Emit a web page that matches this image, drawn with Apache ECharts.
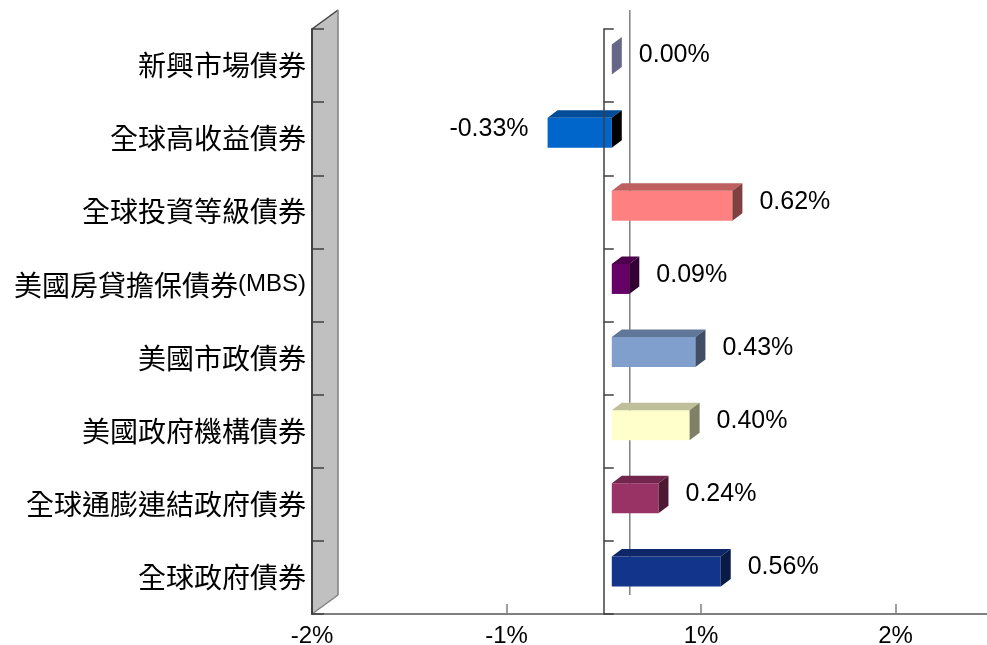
<!DOCTYPE html>
<html>
<head>
<meta charset="utf-8">
<script src="https://cdn.jsdelivr.net/npm/echarts@6/dist/echarts.min.js"></script>
<style>
  html, body { margin: 0; padding: 0; background: #ffffff; }
  #chart { width: 987px; height: 645px; }
</style>
</head>
<body>
<div id="chart"></div>
<script>
// Bond sector returns (%)
const categories = [
  '新興市場債券',
  '全球高收益債券',
  '全球投資等級債券',
  '美國房貸擔保債券(MBS)',
  '美國市政債券',
  '美國政府機構債券',
  '全球通膨連結政府債券',
  '全球政府債券'
];
const returns = [0.00, -0.33, 0.62, 0.09, 0.43, 0.40, 0.24, 0.56];

// Value-axis ticks sit half-way between whole percents; labels are rounded away from zero
const tickValues = [-1.5, -0.5, 0.5, 1.5];
const tickLabels = ['-2%', '-1%', '1%', '2%'];

// Box face colours: front, top, side
const frontColors = ['#ccccff', '#0066cc', '#ff8080', '#660066', '#809fcc', '#ffffcc', '#993366', '#12348a'];
const topColors   = ['#9999bf', '#004c99', '#bf6060', '#4d004d', '#60779a', '#bfbf99', '#73264d', '#0e2768'];
const sideColors  = ['#666688', '#000000', '#804040', '#330033', '#404f66', '#808066', '#4d1933', '#091a45'];

// Pseudo-3D depth settings (pixels)
const WALL_DX = 26, WALL_DY = -19;   // depth of the plot box
const BAR_OFF_X = 8, BAR_OFF_Y = -6; // bar front plane inside the box
const BAR_DX = 10, BAR_DY = -7.5;    // bar depth
const BAR_H = 30;                    // bar front face height

const FONT = '"Liberation Sans", Arial, "Noto Sans CJK TC", sans-serif';

const chart = echarts.init(document.getElementById('chart'), null, { renderer: 'canvas' });

function renderFrame(params, api) {
  const cs = params.coordSys;
  const left = cs.x, top = cs.y, bottom = cs.y + cs.height;
  const zeroX = api.coord([0, 0])[0];
  return {
    type: 'group',
    children: [
      { // side wall
        type: 'polygon',
        shape: { points: [[left, top], [left + WALL_DX, top + WALL_DY], [left + WALL_DX, bottom + WALL_DY], [left, bottom]] },
        style: { fill: '#c0c0c0', stroke: null }
      },
      { type: 'line', shape: { x1: left, y1: top, x2: left + WALL_DX, y2: top + WALL_DY },
        style: { stroke: '#404040', lineWidth: 1.5 } },
      { type: 'line', shape: { x1: left + WALL_DX, y1: top + WALL_DY, x2: left + WALL_DX, y2: bottom + WALL_DY },
        style: { stroke: '#808080', lineWidth: 1.5 } },
      { type: 'line', shape: { x1: left, y1: bottom, x2: left + WALL_DX, y2: bottom + WALL_DY },
        style: { stroke: '#808080', lineWidth: 1.5 } },
      { // zero line on the back plane
        type: 'line', shape: { x1: zeroX + WALL_DX, y1: top + WALL_DY, x2: zeroX + WALL_DX, y2: bottom + WALL_DY },
        style: { stroke: '#808080', lineWidth: 1.5 } }
    ]
  };
}

function renderBar(params, api) {
  const idx = params.dataIndex;
  const v = api.value(0);
  const cat = api.value(1);
  const p0 = api.coord([0, cat]);
  const p1 = api.coord([v, cat]);
  const xl = Math.min(p0[0], p1[0]) + BAR_OFF_X;
  const xr = Math.max(p0[0], p1[0]) + BAR_OFF_X;
  const yc = p0[1] + BAR_OFF_Y;
  const yt = yc - BAR_H / 2, yb = yc + BAR_H / 2;
  const children = [];
  if (xr - xl > 0.5) {
    children.push({ type: 'rect', shape: { x: xl, y: yt, width: xr - xl, height: BAR_H },
      style: { fill: frontColors[idx] } });
    children.push({ type: 'polygon',
      shape: { points: [[xl, yt], [xr, yt], [xr + BAR_DX, yt + BAR_DY], [xl + BAR_DX, yt + BAR_DY]] },
      style: { fill: topColors[idx] } });
  }
  children.push({ type: 'polygon',
    shape: { points: [[xr, yt], [xr + BAR_DX, yt + BAR_DY], [xr + BAR_DX, yb + BAR_DY], [xr, yb]] },
    style: { fill: sideColors[idx] } });

  const text = v.toFixed(2) + '%';
  const ly = p0[1] - 10;
  if (v < 0) {
    children.push({ type: 'text', x: xl - 19, y: ly,
      style: { text: text, fill: '#000', font: '25px ' + FONT, align: 'right', verticalAlign: 'middle' } });
  } else {
    children.push({ type: 'text', x: xr + BAR_DX + 17, y: ly,
      style: { text: text, fill: '#000', font: '25px ' + FONT, align: 'left', verticalAlign: 'middle' } });
  }
  return { type: 'group', children: children };
}

// Category names: CJK in a larger size, Latin runs in a smaller one
function categoryFormatter(name) {
  return name.replace(/([\u3000-\u9fff\uff00-\uffef]+)|([^\u3000-\u9fff\uff00-\uffef]+)/g, function (m, cjk, lat) {
    return cjk ? '{c|' + cjk + '}' : '{l|' + lat + '}';
  });
}

chart.setOption({
  animation: false,
  backgroundColor: '#ffffff',
  grid: { left: 312, top: 29, width: 675, height: 585, containLabel: false, outerBoundsMode: 'none' },
  xAxis: {
    type: 'value',
    min: -1.5,
    max: 1.97,
    splitLine: { show: false },
    axisLine: { show: true, onZero: false, lineStyle: { color: '#808080', width: 2 } },
    axisTick: { show: true, inside: true, length: 10, customValues: tickValues, lineStyle: { color: '#808080', width: 1.5 } },
    axisLabel: {
      show: true,
      customValues: tickValues,
      margin: 10,
      color: '#000',
      fontSize: 24,
      fontFamily: FONT,
      formatter: function (val) {
        const i = tickValues.findIndex(function (t) { return Math.abs(t - val) < 1e-6; });
        return i >= 0 ? tickLabels[i] : '';
      }
    }
  },
  yAxis: [
    {
      type: 'category',
      data: categories,
      inverse: true,
      position: 'left',
      z: 5,
      axisLine: { show: true, onZero: false, lineStyle: { color: '#404040', width: 2 } },
      axisTick: { show: true, inside: true, length: 12, lineStyle: { color: '#404040', width: 1.5 } },
      axisLabel: {
        margin: 6,
        formatter: categoryFormatter,
        rich: {
          c: { fontSize: 28, fontFamily: '"Noto Sans CJK TC", sans-serif', color: '#000' },
          l: { fontSize: 24, fontFamily: FONT, color: '#000', padding: [0, 0, 2, 0] }
        }
      },
      splitLine: { show: false }
    },
    {
      type: 'category',
      data: categories,
      inverse: true,
      position: 'left',
      z: 5,
      axisLine: { show: true, onZero: true, lineStyle: { color: '#404040', width: 1.5 } },
      axisTick: { show: true, inside: true, length: 10, lineStyle: { color: '#404040', width: 1.5 } },
      axisLabel: { show: false },
      splitLine: { show: false }
    }
  ],
  series: [
    {
      type: 'custom',
      name: 'frame',
      z: 1,
      silent: true,
      yAxisIndex: 0,
      renderItem: renderFrame,
      data: [[0, 0]],
      encode: { x: 0, y: 1 }
    },
    {
      type: 'custom',
      name: 'returns',
      z: 3,
      yAxisIndex: 0,
      renderItem: renderBar,
      data: returns.map(function (v, i) { return [v, i]; }),
      encode: { x: 0, y: 1 }
    }
  ]
});
</script>
</body>
</html>
